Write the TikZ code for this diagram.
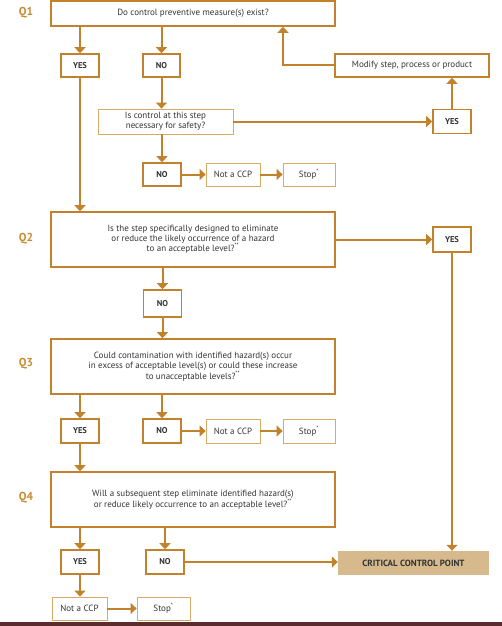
\documentclass[tikz,border=0pt]{standalone}
\usepackage{fontspec}
\setmainfont{PT Sans}
\usetikzlibrary{arrows.meta,positioning}

\definecolor{ccpline}{HTML}{C1822B}
\definecolor{ccpthin}{HTML}{D6AC68}
\definecolor{ccpq}{HTML}{C8892E}
\definecolor{ccpfill}{HTML}{D6B98C}
\definecolor{ccpbar}{HTML}{5B2B2E}
\definecolor{ccptext}{HTML}{333333}

\tikzset{
	ccppicture/.style = {
		x = 1pt,
		y = -1pt,
		font = \fontsize{9}{10}\selectfont,
		text = ccptext,
		arrow/.style = {
			draw = ccpline,
			line width = 2pt,
			-{Triangle[width=11pt,length=6pt]},
		}
	},
	question/.style = {
		draw = ccpline,
		line width = 1.6pt,
		minimum width = 284pt,
		minimum height = 55pt,
		inner sep = 0pt,
		align = center
	},
	answer/.style = {
		draw = ccpline,
		line width = 1.6pt,
		minimum width = 38pt,
		minimum height = 24pt,
		inner sep = 0pt,
		font = \fontsize{8.5}{10}\selectfont\bfseries
	},
	outcome/.style = {
		draw = ccpthin,
		line width = 0.8pt,
		minimum height = 23pt,
		inner sep = 0pt
	},
	qlabel/.style = {
		text = ccpq,
		font = \fontsize{11.5}{13}\selectfont\bfseries
	}
}

\begin{document}
\begin{tikzpicture}[ccppicture]
	\useasboundingbox (0,0) rectangle (502,626);

	\node[qlabel] (L1) at (26,13) {Q1};
	\node[qlabel] (L2) at (26,239) {Q2};
	\node[qlabel] (L3) at (26,364) {Q3};
	\node[qlabel] (L4) at (26,498) {Q4};

	\node[question, minimum height = 25pt] (Q1) at (193,13.5) {Do control preventive measure(s) exist?};
	\node[answer, minimum height = 23pt] (Y1) at (80,65.5) {YES};
	\node[answer, minimum height = 23pt, minimum width = 37pt] (N1) at (161.5,65.5) {NO};
	\node[answer, minimum width = 154pt, minimum height = 23pt, font = \fontsize{9}{10}\selectfont] (M) at (412,65.5) {Modify step, process or product};

	\node[outcome, minimum width = 135pt, minimum height = 25pt, align = center] (C) at (165.5,121.5) {Is control at this step\\necessary for safety?};
	\node[answer] (Y2) at (452,121.5) {YES};

	\node[answer, minimum height = 23pt] (N2) at (162,174.5) {NO};
	\node[outcome, minimum width = 54pt] (X1) at (233,174.5) {Not a CCP};
	\node[outcome, minimum width = 52pt] (S1) at (309,174.5) {Stop\textsuperscript{*}};

	\node[question] (Q2) at (193,239.5) {Is the step specifically designed to eliminate\\or reduce the likely occurrence of a hazard\\to an acceptable level?\textsuperscript{**}};
	\node[answer, minimum height = 25pt] (Y3) at (452,239.5) {YES};
	\node[answer, minimum height = 27pt] (N3) at (162.5,303.5) {NO};

	\node[question] (Q3) at (193,366.5) {Could contamination with identified hazard(s) occur\\in excess of acceptable level(s) or could these increase\\to unacceptable levels?\textsuperscript{**}};
	\node[answer] (Y4) at (80,431) {YES};
	\node[answer] (N4) at (162,431) {NO};
	\node[outcome, minimum width = 54pt, minimum height = 24pt] (X2) at (233,431) {Not a CCP};
	\node[outcome, minimum width = 52pt, minimum height = 24pt] (S2) at (309,431) {Stop\textsuperscript{*}};

	\node[question] (Q4) at (193,499.5) {Will a subsequent step eliminate identified hazard(s)\\or reduce likely occurrence to an acceptable level?\textsuperscript{**}};
	\node[answer] (Y5) at (80,562) {YES};
	\node[answer] (N5) at (165,562) {NO};
	\node[fill = ccpfill, minimum width = 151pt, minimum height = 24pt, inner sep = 0pt, font = \fontsize{9}{10}\selectfont\bfseries] (P) at (413.5,563) {CRITICAL CONTROL POINT};
	\node[outcome, minimum width = 55pt] (X3) at (79.5,608.5) {Not a CCP};
	\node[outcome, minimum width = 53pt] (S3) at (163.5,608.5) {Stop\textsuperscript{*}};

	\fill[ccpbar] (0,622) rectangle (502,626);

	\begin{scope}[every path/.style = arrow]
		\path (Q1.south -| Y1) -- (Y1);
		\path (Q1.south -| N1) -- (N1);
		\path (M.west) -| ([xshift=90pt]Q1.south);
		\path (N1) -- (N1 |- C.north);
		\path (C.east) -- (C.east -| Y2.west);
		\path (Y2) -- (Y2 |- M.south);
		\path (N2 |- C.south) -- (N2);
		\path (N2) -- (X1);
		\path (X1) -- (S1);

		\path (Y1) -- (Y1 |- Q2.north);
		\path (Q2.east |- Y3) -- (Y3);
		\path (Y3) -- (Y3 |- P.north);
		\path (N3 |- Q2.south) -- (N3);
		\path (N3) -- (N3 |- Q3.north);

		\path (Q3.south -| Y4) -- (Y4);
		\path (Q3.south -| N4) -- (N4);
		\path (N4) -- (X2);
		\path (X2) -- (S2);
		\path (Y4) -- (Y4 |- Q4.north);

		\path (Q4.south -| Y5) -- (Y5);
		\path (Q4.south -| N5) -- (N5);
		\path (N5.east) -- (N5.east -| P.west);
		\path (Y5) -- (Y5 |- X3.north);
		\path (X3) -- (S3);
	\end{scope}
\end{tikzpicture}
\end{document}
